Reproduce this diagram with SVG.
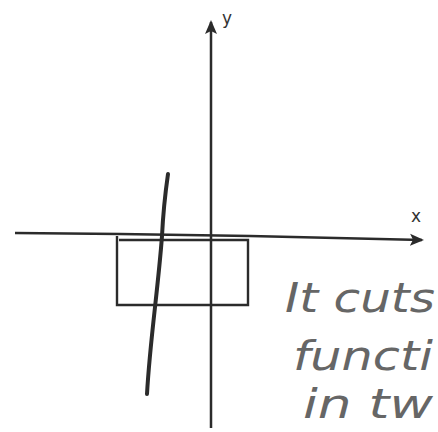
<svg xmlns="http://www.w3.org/2000/svg" width="438" height="432" viewBox="0 0 438 432">
<style>
.ax{stroke:#2b2b2b;stroke-width:2.5;fill:none}
.rc{stroke:#2b2b2b;stroke-width:2.4;fill:none}
.curve{stroke:#2b2b2b;stroke-width:4;fill:none;stroke-linecap:round}
.lbl{font-family:"DejaVu Sans",sans-serif;font-size:17px;fill:#333}
.hand{font-family:"DejaVu Sans",sans-serif;font-style:italic;font-size:40px;fill:#666}
</style>
<defs>
<marker id="ah" markerWidth="14" markerHeight="14" refX="12" refY="7" orient="auto" markerUnits="userSpaceOnUse">
<path d="M0,1 L14,7 L0,13 L3,7 Z" fill="#2b2b2b"/>
</marker>
</defs>
<rect width="438" height="432" fill="#fff"/>
<g id="connectors">
<path class="ax" d="M15,233 L120,234 L250,236 L422,240" marker-end="url(#ah)"/>
<path class="ax" d="M211,428 L211,22" marker-end="url(#ah)"/>
</g>
<g id="x-label"><text class="lbl" x="411" y="222">x</text></g>
<g id="y-label"><text class="lbl" x="222" y="24">y</text></g>
<g id="rectangle">
<path class="rc" d="M117,236 L117,305 L248,305 L248,240 L119,240"/>
</g>
<g id="function-curve">
<path class="curve" d="M168,174 C165,195 163,215 162,236 C158,290 150,340 147,394"/>
</g>
<g id="note">
<text class="hand" x="285" y="312" textLength="150" lengthAdjust="spacingAndGlyphs">It cuts</text>
<text class="hand" x="293" y="370" textLength="140" lengthAdjust="spacingAndGlyphs">functi</text>
<text class="hand" x="303" y="418" font-size="36" textLength="130" lengthAdjust="spacingAndGlyphs">in tw</text>
</g>
</svg>
